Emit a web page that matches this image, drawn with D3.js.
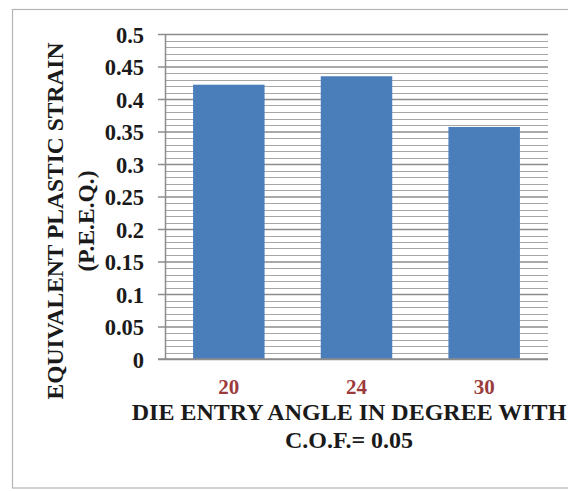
<!DOCTYPE html>
<html>
<head>
<meta charset="utf-8">
<script src="https://cdn.jsdelivr.net/npm/d3@7"></script>
<style>
  html, body { margin: 0; padding: 0; background: #fff; }
  svg { display: block; }
  text { font-family: "Liberation Serif", "Times New Roman", serif; font-weight: bold; }
</style>
</head>
<body>
<svg id="chart" width="568" height="491"></svg>
<script>
// Die entry angle (degrees) and the resulting equivalent plastic strain
const categories = ["20", "24", "30"];
const strainValues = [0.422, 0.435, 0.357];
const yTickLabels = ["0", "0.05", "0.1", "0.15", "0.2", "0.25", "0.3", "0.35", "0.4", "0.45", "0.5"];
const yTitleLines = ["EQUIVALENT PLASTIC STRAIN", "(P.E.E.Q.)"];
const xTitleLines = ["DIE ENTRY ANGLE IN DEGREE WITH", "C.O.F.= 0.05"];

const svg = d3.select("#chart");

// outer chart frame
svg.append("rect")
  .attr("x", 12.5).attr("y", 9.5)
  .attr("width", 570).attr("height", 478.5)
  .attr("fill", "#fff")
  .attr("stroke", "#b4b4b4").attr("stroke-width", 1.2);

const plot = { left: 165, right: 548, top: 34, bottom: 359 };

const x = d3.scaleBand()
  .domain(categories)
  .range([plot.left, plot.right])
  .paddingInner(0.44)
  .paddingOuter(0.22);

const y = d3.scaleLinear()
  .domain([0, 0.5])
  .range([plot.bottom, plot.top]);

// minor gridlines every 0.01
const minor = d3.range(1, 50).filter(i => i % 5 !== 0).map(i => i / 100);
svg.append("g")
  .selectAll("line")
  .data(minor)
  .join("line")
  .attr("x1", plot.left).attr("x2", plot.right)
  .attr("y1", d => Math.round(y(d)) + 0.5).attr("y2", d => Math.round(y(d)) + 0.5)
  .attr("stroke", "#a6a6a6").attr("stroke-width", 1);

// major gridlines and ticks via the axis generator
const yAxis = d3.axisLeft(y)
  .tickValues(yTickLabels.map(Number))
  .tickFormat((d, i) => yTickLabels[i])
  .tickSize(-(plot.right - plot.left))
  .tickPadding(0);

const gy = svg.append("g")
  .attr("transform", `translate(${plot.left},0)`)
  .call(yAxis);
gy.select(".domain").remove();
gy.selectAll(".tick line")
  .attr("x1", -7)
  .attr("stroke", "#8c8c8c").attr("stroke-width", 1.5);
gy.selectAll(".tick text")
  .attr("x", -21)
  .attr("dy", "0.36em")
  .attr("fill", "#1a1a1a")
  .style("font-size", "22.5px")
  .style("font-family", "'Liberation Serif', serif")
  .style("font-weight", "bold");

// bars
svg.append("g")
  .selectAll("rect")
  .data(strainValues)
  .join("rect")
  .attr("x", (d, i) => x(categories[i]))
  .attr("width", x.bandwidth())
  .attr("y", d => y(d))
  .attr("height", d => y(0) - y(d))
  .attr("fill", "#4a7ebb");

// vertical value axis line
svg.append("line")
  .attr("x1", plot.left + 0.5).attr("x2", plot.left + 0.5)
  .attr("y1", plot.top).attr("y2", plot.bottom)
  .attr("stroke", "#8c8c8c").attr("stroke-width", 1.5);

// category axis
const xAxis = d3.axisBottom(x).tickSize(0).tickPadding(20);
const gx = svg.append("g")
  .attr("transform", `translate(0,${plot.bottom})`)
  .call(xAxis);
gx.select(".domain").remove();
gx.selectAll(".tick text")
  .attr("fill", "#9b3b3b")
  .style("font-size", "21px")
  .style("font-family", "'Liberation Serif', serif")
  .style("font-weight", "bold");

svg.append("line")
  .attr("x1", plot.left - 7).attr("x2", plot.right)
  .attr("y1", plot.bottom).attr("y2", plot.bottom)
  .attr("stroke", "#8c8c8c").attr("stroke-width", 1.5);

// axis titles
const yTitle = svg.append("text")
  .attr("transform", "translate(0,221) rotate(-90)")
  .attr("text-anchor", "middle")
  .attr("fill", "#1a1a1a")
  .style("font-size", "23.5px");
yTitle.selectAll("tspan")
  .data(yTitleLines)
  .join("tspan")
  .attr("x", 0)
  .attr("y", (d, i) => i === 0 ? 63 : 94)
  .text(d => d);

const xTitle = svg.append("text")
  .attr("text-anchor", "middle")
  .attr("fill", "#1a1a1a")
  .style("font-size", "24px");
xTitle.selectAll("tspan")
  .data(xTitleLines)
  .join("tspan")
  .attr("x", 349)
  .attr("y", (d, i) => i === 0 ? 420 : 448)
  .text(d => d);
</script>
</body>
</html>
